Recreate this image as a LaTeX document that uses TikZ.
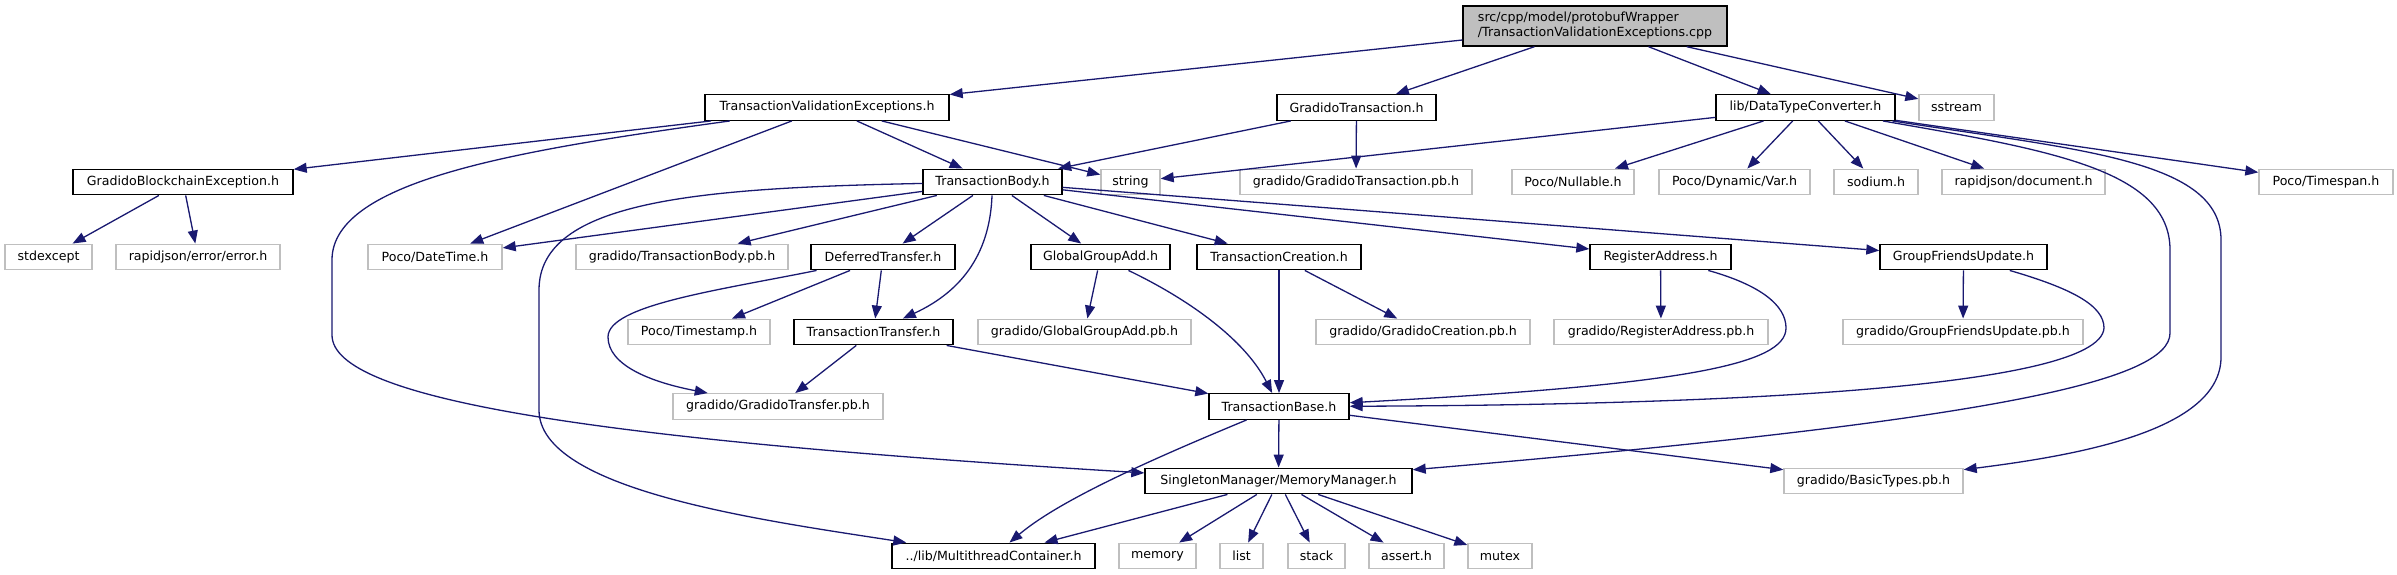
\documentclass[tikz,border=0pt]{standalone}
\usepackage{fontspec}
\setmainfont{DejaVu Sans}
\usetikzlibrary{arrows.meta}
\definecolor{edgec}{HTML}{191970}
\definecolor{graybd}{HTML}{BFBFBF}
\begin{document}
\begin{tikzpicture}[x=1pt,y=-1pt,font=\fontsize{12.6}{15}\selectfont,
  box/.style={rectangle,inner sep=0pt,minimum height=25.5pt,line width=1.4pt,fill=white},
  hb/.style={box,draw=black},
  sb/.style={box,draw=graybd},
  dep/.style={draw=edgec,line width=1.3pt,-{Triangle[length=13pt,width=10pt]}}]
\useasboundingbox (0,0) rectangle (2397,575);
% row 0
\node[box,draw=black,fill=graybd,minimum width=264,minimum height=40,align=left] (root) at (1595,26) {src/cpp/model/protobufWrapper\\/TransactionValidationExceptions.cpp};
% row 1
\node[hb,minimum width=244] (TVE) at (827,107.5) {TransactionValidationExceptions.h};
\node[hb,minimum width=159] (GT) at (1356.5,107.5) {GradidoTransaction.h};
\node[hb,minimum width=179] (DTC) at (1805.5,107.5) {lib/DataTypeConverter.h};
\node[sb,minimum width=75] (sstream) at (1956.5,107.5) {sstream};
% row 2
\node[hb,minimum width=220] (GBE) at (183,182) {GradidoBlockchainException.h};
\node[hb,minimum width=139] (TB) at (992.5,182) {TransactionBody.h};
\node[sb,minimum width=59] (string) at (1130.5,182) {string};
\node[sb,minimum width=232] (GTpb) at (1356,182) {gradido/GradidoTransaction.pb.h};
\node[sb,minimum width=122] (Nullable) at (1573,182) {Poco/Nullable.h};
\node[sb,minimum width=151] (Var) at (1734.5,182) {Poco/Dynamic/Var.h};
\node[sb,minimum width=84] (sodium) at (1876,182) {sodium.h};
\node[sb,minimum width=163] (rjdoc) at (2023.5,182) {rapidjson/document.h};
\node[sb,minimum width=134] (Timespan) at (2326,182) {Poco/Timespan.h};
% row 3
\node[sb,minimum width=87] (stdexcept) at (48.5,257) {stdexcept};
\node[sb,minimum width=164] (rjerr) at (198,257) {rapidjson/error/error.h};
\node[sb,minimum width=134] (DateTime) at (435,257) {Poco/DateTime.h};
\node[sb,minimum width=212] (TBpb) at (682,257) {gradido/TransactionBody.pb.h};
\node[hb,minimum width=144] (DT) at (883,257) {DeferredTransfer.h};
\node[hb,minimum width=139] (GGA) at (1100.5,257) {GlobalGroupAdd.h};
\node[hb,minimum width=164] (TC) at (1279,257) {TransactionCreation.h};
\node[hb,minimum width=141] (RA) at (1660.5,257) {RegisterAddress.h};
\node[hb,minimum width=167] (GFU) at (1963.5,257) {GroupFriendsUpdate.h};
% row 4
\node[sb,minimum width=142] (Timestamp) at (699,332) {Poco/Timestamp.h};
\node[hb,minimum width=159] (TT) at (873.5,332) {TransactionTransfer.h};
\node[sb,minimum width=213] (GGApb) at (1084.5,332) {gradido/GlobalGroupAdd.pb.h};
\node[sb,minimum width=214] (GCpb) at (1423,332) {gradido/GradidoCreation.pb.h};
\node[sb,minimum width=214] (RApb) at (1661,332) {gradido/RegisterAddress.pb.h};
\node[sb,minimum width=240] (GFUpb) at (1963,332) {gradido/GroupFriendsUpdate.pb.h};
% row 5
\node[sb,minimum width=210] (GTrpb) at (778,406.5) {gradido/GradidoTransfer.pb.h};
\node[hb,minimum width=140] (TBase) at (1279,406.5) {TransactionBase.h};
% row 6
\node[hb,minimum width=267] (MM) at (1278.5,481) {SingletonManager/MemoryManager.h};
\node[sb,minimum width=179] (BT) at (1873.5,481) {gradido/BasicTypes.pb.h};
% row 7
\node[hb,minimum width=203] (MTC) at (993.5,556) {../lib/MultithreadContainer.h};
\node[sb,minimum width=77] (memory) at (1157.5,556) {memory};
\node[sb,minimum width=43] (list) at (1241.5,556) {list};
\node[sb,minimum width=57] (stack) at (1316.5,556) {stack};
\node[sb,minimum width=75] (assert) at (1406.5,556) {assert.h};
\node[sb,minimum width=64] (mutex) at (1500,556) {mutex};
% edges
\draw[dep] (root) -- (TVE);
\draw[dep] (root) -- (GT);
\draw[dep] (root) -- (DTC);
\draw[dep] (root) -- (sstream);
\draw[dep] (TVE) -- (GBE);
\draw[dep] (TVE) .. controls (520,150) and (332,180) .. (332,260) -- (332,335) .. controls (332,400) and (600,440) .. (MM);
\draw[dep] (TVE) -- (DateTime);
\draw[dep] (TVE) -- (TB);
\draw[dep] (TVE) -- (string);
\draw[dep] (GT) -- (TB);
\draw[dep] (GT) -- (GTpb);
\draw[dep] (DTC) -- (string);
\draw[dep] (DTC) -- (Nullable);
\draw[dep] (DTC) -- (Var);
\draw[dep] (DTC) -- (sodium);
\draw[dep] (DTC) -- (rjdoc);
\draw[dep] (DTC) -- (Timespan);
\draw[dep] (DTC) .. controls (2050,150) and (2170,170) .. (2170,250) -- (2170,333) .. controls (2170,380) and (2000,420) .. (MM);
\draw[dep] (DTC) .. controls (2080,150) and (2221,160) .. (2221,240) -- (2221,357) .. controls (2221,430) and (2080,455) .. (BT);
\draw[dep] (GBE) -- (stdexcept);
\draw[dep] (GBE) -- (rjerr);
\draw[dep] (TB) -- (DateTime);
\draw[dep] (TB) -- (TBpb);
\draw[dep] (TB) .. controls (700,188) and (539,200) .. (539,290) -- (539,410) .. controls (539,490) and (760,520) .. (MTC);
\draw[dep] (TB) -- (DT);
\draw[dep] (TB) .. controls (990,250) and (965,290) .. (TT);
\draw[dep] (TB) -- (GGA);
\draw[dep] (TB) -- (TC);
\draw[dep] (TB) -- (RA);
\draw[dep] (TB) -- (GFU);
\draw[dep] (DT) -- (Timestamp);
\draw[dep] (DT) -- (TT);
\draw[dep] (DT) .. controls (720,290) and (608,305) .. (608,337) .. controls (608,365) and (650,382) .. (GTrpb);
\draw[dep] (GGA) -- (GGApb);
\draw[dep] (GGA) .. controls (1190,300) and (1245,340) .. (TBase);
\draw[dep] (TC) -- (TBase);
\draw[dep] (TC) -- (GCpb);
\draw[dep] (TT) -- (GTrpb);
\draw[dep] (TT) -- (TBase);
\draw[dep] (RA) -- (RApb);
\draw[dep] (RA) .. controls (1760,285) and (1786,305) .. (1786,328) .. controls (1786,365) and (1680,385) .. (TBase);
\draw[dep] (GFU) -- (GFUpb);
\draw[dep] (GFU) .. controls (2070,288) and (2104,305) .. (2104,328) .. controls (2100,390) and (1700,405) .. (TBase);
\draw[dep] (TBase) -- (MM);
\draw[dep] (TBase) .. controls (1150,460) and (1060,500) .. (MTC);
\draw[dep] (TBase) -- (BT);
\draw[dep] (MM) -- (MTC);
\draw[dep] (MM) -- (memory);
\draw[dep] (MM) -- (list);
\draw[dep] (MM) -- (stack);
\draw[dep] (MM) -- (assert);
\draw[dep] (MM) -- (mutex);
\end{tikzpicture}
\end{document}
